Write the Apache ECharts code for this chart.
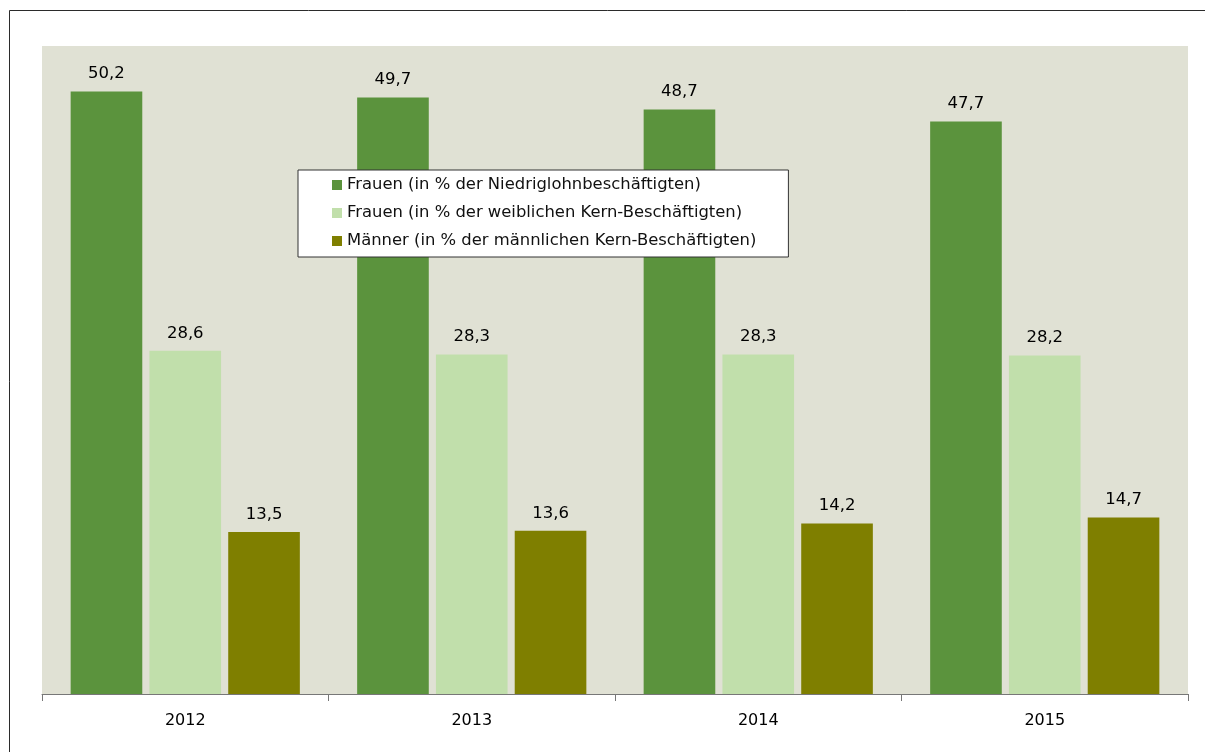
<!DOCTYPE html>
<html><head><meta charset="utf-8">
<script src="https://cdn.jsdelivr.net/npm/echarts@6/dist/echarts.min.js"></script>
<style>html,body{margin:0;padding:0;background:#fff}#c{width:1205px;height:752px}</style>
</head><body><div id="c"></div>
<script>
const categories = ['2012', '2013', '2014', '2015'];
const seriesNames = [
  'Frauen (in % der Niedriglohnbeschäftigten)',
  'Frauen (in % der weiblichen Kern-Beschäftigten)',
  'Männer (in % der männlichen Kern-Beschäftigten)'
];
const frauenNiedriglohn = [50.2, 49.7, 48.7, 47.7];
const frauenKern = [28.6, 28.3, 28.3, 28.2];
const maennerKern = [13.5, 13.6, 14.2, 14.7];
const colors = ['#5B933D', '#C1DFAB', '#7F7F00'];

const FONT = 'DejaVu Sans';
const chart = echarts.init(document.getElementById('c'), null, {renderer: 'canvas'});
function mk(name, data, color) {
  return {
    name: name, type: 'bar', data: data,
    barCategoryGap: '20%', barGap: '10%',
    itemStyle: {color: color},
    label: {
      show: true, position: 'top', distance: 9,
      color: '#000', fontFamily: FONT, fontSize: 16.5,
      formatter: p => p.value.toFixed(1).replace('.', ',')
    }
  };
}
chart.setOption({
  animation: false,
  graphic: [{
    type: 'rect', z: -10, silent: true,
    shape: {x: 9.5, y: 10.5, width: 1400, height: 900},
    style: {fill: 'none', stroke: '#2b2b2b', lineWidth: 1}
  }],
  grid: {
    left: 42, right: 17, top: 46, bottom: 58,
    show: true, backgroundColor: '#E0E1D4', borderWidth: 0
  },
  legend: {
    orient: 'vertical', left: 298, top: 170,
    itemWidth: 10, itemHeight: 10, itemGap: 12,
    icon: 'rect',
    backgroundColor: '#fff', borderColor: '#333', borderWidth: 1,
    padding: [7, 32, 8, 34],
    textStyle: {fontFamily: FONT, fontSize: 16.4, color: '#111'},
    data: seriesNames
  },
  xAxis: {
    type: 'category', data: categories,
    axisLine: {show: true, lineStyle: {color: '#777', width: 1}},
    axisTick: {show: true, length: 7, lineStyle: {color: '#777'}},
    axisLabel: {color: '#000', fontFamily: FONT, fontSize: 16, margin: 19}
  },
  yAxis: {
    type: 'value', min: 0, max: 54, show: false,
    splitLine: {show: false}
  },
  series: [
    mk(seriesNames[0], frauenNiedriglohn, colors[0]),
    mk(seriesNames[1], frauenKern, colors[1]),
    mk(seriesNames[2], maennerKern, colors[2])
  ]
});
</script></body></html>
